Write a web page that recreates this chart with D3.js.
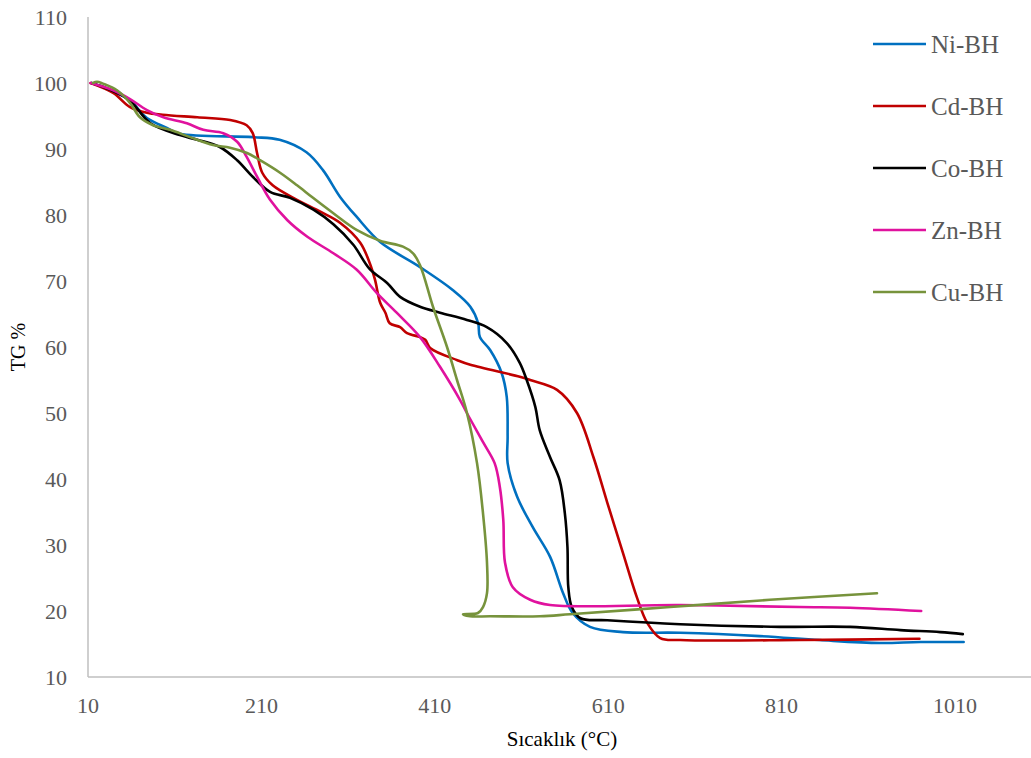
<!DOCTYPE html>
<html><head><meta charset="utf-8">
<script src="https://cdn.jsdelivr.net/npm/d3@7"></script>
<style>body{margin:0;background:#fff}svg{display:block}</style>
</head><body>
<svg id="chart" width="1031" height="758"></svg>
<script>
const seriesNames = ["Ni-BH","Cd-BH","Co-BH","Zn-BH","Cu-BH"];
const seriesColors = ["#0070C0","#C00000","#000000","#E0129E","#77933C"];
const xTicks = [10,210,410,610,810,1010];
const yTicks = [10,20,30,40,50,60,70,80,90,100,110];

const tempNi = [14,35,58,78,101,116,200,231,262,281,301,320,347,393,431,451,460,462,474,487,493,494,494,505,523,543,558,569,589,627,693,785,854,923,970,1020];
const tgNi   = [100,99,97.4,94.7,93.2,92.3,91.8,91.4,89.5,86.8,82.7,79.7,75.9,72.1,68.6,66.1,63.6,61.5,59.5,56.1,52.4,46.4,42.4,37.3,32.7,28.2,22.7,19.7,17.6,16.8,16.7,16.2,15.6,15.15,15.3,15.3];

const tempCd = [13,39,58,78,96,136,174,193,200,205,211,223,251,278,301,324,335,341,347,353,358,370,378,393,399,405,436,451,508,520,551,574,593,609,627,643,655,670,693,831,969];
const tgCd   = [100,98.5,96.4,95.5,95.2,94.8,94.4,93.6,92.4,89.4,86.4,84.5,82.3,80.5,78.8,75.8,72.7,70.2,66.7,65.2,63.6,63,62.1,61.5,61.1,59.8,58,57.3,55.5,55,53.5,50,43.3,36.4,28.8,22.1,18.2,15.9,15.6,15.6,15.8];

const tempCo = [14,35,58,82,116,136,162,182,200,220,243,270,293,316,335,355,370,393,416,447,470,493,508,516,526,531,543,554,560,563,564,568,578,609,693,808,889,947,993,1019];
const tgCo   = [100,99,97.4,93.9,92.1,91.4,90.3,88.3,85.8,83.5,82.6,80.8,78.6,75.5,71.8,69.7,67.6,66.1,65.2,64.1,63,60.6,57.6,55,50.9,47.4,43.3,39.8,34.8,29.7,23.6,20.6,18.9,18.6,18,17.6,17.6,17.1,16.8,16.5];

const tempZn = [13,39,58,78,97,124,143,166,182,193,205,220,240,263,293,320,343,366,393,416,439,447,466,479,485,489,491,500,520,543,693,831,889,971];
const tgZn   = [100,98.9,97.6,95.9,94.8,93.9,92.9,92.4,91.1,88.8,85.8,82.3,79.2,76.7,74.2,71.7,68.2,65.2,61.5,57,52,50,45.5,42.4,38.8,33.8,27.3,23.6,21.7,20.9,20.9,20.6,20.5,20];

const tempCu = [15.8,20.4,27.3,43.4,58.4,69.9,85,104.6,127.6,154.2,173.8,193.4,208.4,231.5,251.1,269.5,292.6,320.3,346.8,373.3,384.9,393,407.9,424.1,435.6,447.1,458.7,465.6,470.2,470.2,465.6,459.8,442.5,450.6,473.7,531.3,566,681.3,796.6,920];
const tgCu   = [100,100.2,99.9,98.9,97,94.8,93.6,92.9,91.8,90.6,90.2,89.4,88.3,86.4,84.5,82.6,80.3,77.7,76.1,75.2,74.2,72.4,66.1,60,55,50,42.4,34.8,27.3,22.7,20.6,19.7,19.5,19.2,19.2,19.2,19.5,20.6,21.7,22.7];

const temps = [tempNi,tempCd,tempCo,tempZn,tempCu];
const tgs = [tgNi,tgCd,tgCo,tgZn,tgCu];

const svg = d3.select("#chart");
const x = d3.scaleLinear().domain([10,1110]).range([88,1041.7]);
const y = d3.scaleLinear().domain([10,110]).range([677,17]);
const serif = "'Liberation Serif','Times New Roman',serif";

// axes lines
svg.append("line").attr("x1",x(10)).attr("x2",1031).attr("y1",y(10)).attr("y2",y(10))
  .attr("stroke","#BFBFBF").attr("stroke-width",1.5);
svg.append("line").attr("x1",x(10)).attr("x2",x(10)).attr("y1",y(10)).attr("y2",y(110))
  .attr("stroke","#BFBFBF").attr("stroke-width",1.5);

// tick labels
svg.append("g").selectAll("text").data(yTicks).join("text")
  .attr("x",67).attr("y",d=>y(d)).attr("dy","0.35em").attr("text-anchor","end")
  .attr("font-family",serif).attr("font-size",22).attr("fill","#595959").text(d=>d);
svg.append("g").selectAll("text").data(xTicks).join("text")
  .attr("x",d=>x(d)).attr("y",713).attr("text-anchor","middle")
  .attr("font-family",serif).attr("font-size",22).attr("fill","#595959").text(d=>d);

// axis titles
svg.append("text").attr("x",562).attr("y",746).attr("text-anchor","middle")
  .attr("font-family",serif).attr("font-size",21).attr("fill","#000").text("Sıcaklık (°C)");
svg.append("text").attr("transform","translate(25,347) rotate(-90)").attr("text-anchor","middle")
  .attr("font-family",serif).attr("font-size",20).attr("fill","#000").text("TG %");

// series
const line = d3.line().x(d=>x(d[0])).y(d=>y(d[1])).curve(d3.curveCatmullRom.alpha(0.5));
seriesNames.forEach((name,i)=>{
  const pts = temps[i].map((t,j)=>[t,tgs[i][j]]);
  svg.append("path").datum(pts).attr("d",line).attr("fill","none")
    .attr("stroke",seriesColors[i]).attr("stroke-width",2.6).attr("stroke-linejoin","round").attr("stroke-linecap","round");
});

// legend
const lg = svg.append("g");
seriesNames.forEach((name,i)=>{
  const ly = 44 + i*62;
  lg.append("line").attr("x1",873).attr("x2",926).attr("y1",ly).attr("y2",ly)
    .attr("stroke",seriesColors[i]).attr("stroke-width",2.6);
  lg.append("text").attr("x",931).attr("y",ly).attr("dy","0.35em")
    .attr("font-family",serif).attr("font-size",25).attr("fill","#595959").text(name);
});
</script>
</body></html>
